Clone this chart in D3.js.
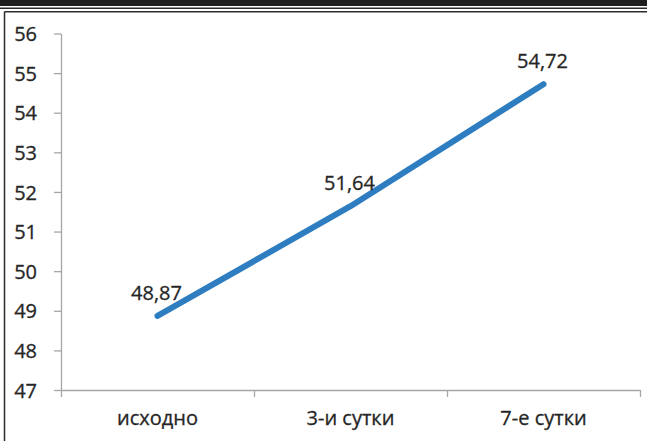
<!DOCTYPE html>
<html>
<head>
<meta charset="utf-8">
<script src="https://cdn.jsdelivr.net/npm/d3@7"></script>
<style>
  body { margin: 0; background: #fff; }
  svg { display: block; }
  svg text { font-family: "Open Sans", "Noto Sans", sans-serif; fill: #262626; stroke: #262626; stroke-width: 0.3px; font-size: 20px; }
  .axis path, .axis line { stroke: #a6a6a6; stroke-width: 1.3; }
</style>
</head>
<body>
<svg></svg>
<script>
const categories = ["исходно", "3-и сутки", "7-е сутки"];
const values = [48.87, 51.64, 54.72];
const valueLabels = ["48,87", "51,64", "54,72"];
const yTicks = [47, 48, 49, 50, 51, 52, 53, 54, 55, 56];

let width = 647;
let height = 441;
let plotLeft = 61, plotRight = 640, plotTop = 33.5, plotBottom = 390;

let svg = d3.select("svg").attr("width", width).attr("height", height);

// frame like the page around the figure
svg.append("rect").attr("x", 0).attr("y", 0).attr("width", width).attr("height", 6).attr("fill", "#1e1e1e");
svg.append("line").attr("x1", 0).attr("x2", width).attr("y1", 8.3).attr("y2", 8.3).attr("stroke", "#2a2a2a").attr("stroke-width", 1.6);
svg.append("line").attr("x1", 4.5).attr("x2", width).attr("y1", 11.8).attr("y2", 11.8).attr("stroke", "#2a2a2a").attr("stroke-width", 1.5);
svg.append("line").attr("x1", 4.5).attr("x2", 4.5).attr("y1", 11.8).attr("y2", height).attr("stroke", "#2a2a2a").attr("stroke-width", 1.5);

const yScale = d3.scaleLinear().domain([47, 56]).range([plotBottom, plotTop]);
const xBand = d3.scaleBand().domain(categories).range([plotLeft, plotRight]);
const xEdge = d3.scaleLinear().domain([0, categories.length]).range([plotLeft, plotRight]);

const yAxis = d3.axisLeft(yScale).tickValues(yTicks).tickFormat(d3.format("d")).tickSize(7).tickSizeOuter(0).tickPadding(17);
svg.append("g").attr("class", "axis").attr("transform", "translate(" + plotLeft + ",0)").call(yAxis)
  .selectAll("text").attr("dy", "0.36em");

// category boundary ticks
svg.append("g").attr("class", "axis").attr("transform", "translate(0," + plotBottom + ")")
  .call(d3.axisBottom(xEdge).tickValues(d3.range(categories.length + 1)).tickFormat("").tickSize(7).tickSizeOuter(0));

// category labels
const xAxis = d3.axisBottom(xBand).tickSize(0).tickSizeOuter(0);
const gx = svg.append("g").attr("class", "axis").attr("transform", "translate(0," + plotBottom + ")").call(xAxis);
gx.select("path").remove();
gx.selectAll("text").attr("y", 35).attr("dy", 0);

const xPoint = (d, i) => xBand(categories[i]) + xBand.bandwidth() / 2;

const line = d3.line().x(xPoint).y((d) => yScale(d));
svg.append("path").datum(values)
  .attr("d", line)
  .attr("fill", "none")
  .attr("stroke", "#2e7dc1")
  .attr("stroke-width", 6)
  .attr("stroke-linecap", "round")
  .attr("stroke-linejoin", "round");

svg.selectAll(".lbl").data(values).enter().append("text")
  .attr("class", "lbl")
  .attr("x", (d, i) => xPoint(d, i) - 1)
  .attr("y", (d) => yScale(d) - 16)
  .attr("text-anchor", "middle")
  .text((d, i) => valueLabels[i]);
</script>
</body>
</html>
